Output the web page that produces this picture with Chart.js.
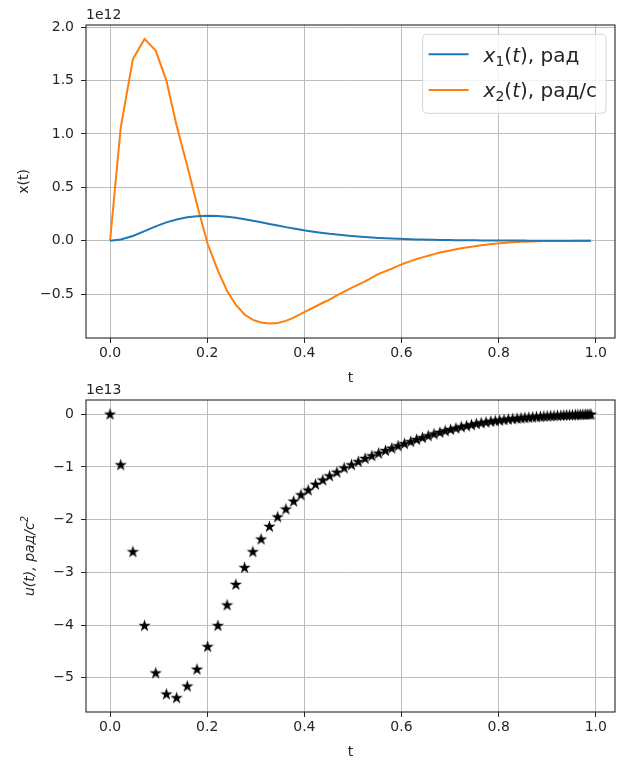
<!DOCTYPE html>
<html>
<head>
<meta charset="utf-8">
<script src="https://cdn.jsdelivr.net/npm/chart.js@4.4.0/dist/chart.umd.min.js"></script>
<style>
  html, body { margin: 0; padding: 0; background: #fff; }
  #wrap { width: 628px; height: 762px; position: relative; }
  canvas { display: block; position: absolute; left: 0; }
  #chart1 { top: 0; }
  #chart2 { top: 376px; }
</style>
</head>
<body>
<div id="wrap">
  <canvas id="chart1" width="628" height="388"></canvas>
  <canvas id="chart2" width="628" height="386"></canvas>
</div>
<script>
// time grid of the solver (s)
const tValues = [
  0, 0.022, 0.047, 0.071, 0.094, 0.116, 0.137, 0.159, 0.179, 0.201,
  0.222, 0.241, 0.259, 0.277, 0.294, 0.311, 0.328, 0.345, 0.362, 0.378,
  0.393, 0.408, 0.423, 0.438, 0.452, 0.467, 0.482, 0.497, 0.511, 0.525,
  0.539, 0.553, 0.567, 0.580, 0.593, 0.606, 0.619, 0.631, 0.643, 0.655,
  0.667, 0.679, 0.690, 0.701, 0.712, 0.723, 0.734, 0.744, 0.754, 0.764,
  0.774, 0.784, 0.793, 0.802, 0.811, 0.820, 0.829, 0.838, 0.846, 0.854,
  0.862, 0.870, 0.878, 0.886, 0.893, 0.900, 0.907, 0.914, 0.921, 0.928,
  0.934, 0.940, 0.946, 0.952, 0.958, 0.963, 0.968, 0.973, 0.978, 0.982, 0.986, 0.990
];
// x1(t), x2(t) in units of 1e12
const x1Values = [
  0, 0.012, 0.045, 0.09, 0.135, 0.172, 0.20, 0.22, 0.23, 0.234,
  0.233, 0.226, 0.215, 0.202, 0.188, 0.173, 0.158, 0.143, 0.128, 0.115,
  0.103, 0.092, 0.082, 0.073, 0.065, 0.058, 0.051, 0.045, 0.040, 0.035,
  0.031, 0.027, 0.024, 0.021, 0.019, 0.017, 0.015, 0.013, 0.012, 0.010,
  0.009, 0.008, 0.007, 0.0065, 0.006, 0.0055, 0.005, 0.0045, 0.004, 0.0037,
  0.0034, 0.0031, 0.0028, 0.0026, 0.0024, 0.0022, 0.002, 0.0018, 0.0017, 0.0016,
  0.0015, 0.0014, 0.0013, 0.0012, 0.0011, 0.001, 0.001, 0.0009, 0.0009, 0.0008,
  0.0008, 0.0007, 0.0007, 0.0006, 0.0006, 0.0005, 0.0005, 0.0005, 0.0004, 0.0004, 0.0004, 0.0003
];
const x2Values = [
  0, 1.06, 1.70, 1.89, 1.78, 1.50, 1.08, 0.70, 0.34, -0.03,
  -0.28, -0.47, -0.60, -0.69, -0.74, -0.765, -0.775, -0.77, -0.75, -0.72,
  -0.685, -0.65, -0.615, -0.58, -0.55, -0.51, -0.475, -0.44, -0.41, -0.38,
  -0.345, -0.31, -0.285, -0.26, -0.235, -0.21, -0.19, -0.17, -0.155, -0.14,
  -0.125, -0.11, -0.10, -0.09, -0.08, -0.07, -0.062, -0.055, -0.048, -0.042,
  -0.036, -0.031, -0.027, -0.023, -0.020, -0.017, -0.014, -0.012, -0.010, -0.008,
  -0.007, -0.006, -0.005, -0.004, -0.003, -0.003, -0.002, -0.002, -0.002, -0.001,
  -0.001, -0.001, -0.001, -0.001, 0, 0, 0, 0, 0, 0, 0, 0
];
// control u(t) in units of 1e13
const uValues = [
  0, -0.96, -2.61, -4.01, -4.91, -5.31, -5.38, -5.16, -4.84, -4.41,
  -4.01, -3.62, -3.23, -2.91, -2.61, -2.37, -2.13, -1.95, -1.80, -1.65,
  -1.53, -1.44, -1.33, -1.25, -1.17, -1.10, -1.02, -0.96, -0.90, -0.84,
  -0.79, -0.74, -0.69, -0.645, -0.60, -0.56, -0.52, -0.48, -0.445, -0.41,
  -0.375, -0.345, -0.315, -0.29, -0.265, -0.24, -0.22, -0.20, -0.18, -0.165,
  -0.15, -0.135, -0.125, -0.115, -0.105, -0.095, -0.087, -0.08, -0.073, -0.067,
  -0.061, -0.055, -0.05, -0.045, -0.04, -0.036, -0.032, -0.029, -0.026, -0.023,
  -0.02, -0.018, -0.016, -0.014, -0.012, -0.01, -0.008, -0.006, -0.005, -0.004, -0.003, -0.002
];

const xTicks = [0, 0.2, 0.4, 0.6, 0.8, 1.0];
const yTicksTop = [-0.5, 0, 0.5, 1.0, 1.5, 2.0];
const yTicksBottom = [-5, -4, -3, -2, -1, 0];
const seriesSub = ['1', '2'];
const seriesUnit = ['рад', 'рад/с'];

const FONT = '"DejaVu Sans", sans-serif';
const INK = '#262626';
const colors = ['#1f77b4', '#ff7f0e'];

function minus(s) { return s.replace('-', '\u2212'); }

// rich text: list of {text, font, dy}
function partsWidth(ctx, parts) {
  let w = 0;
  for (const p of parts) { ctx.font = p.font; w += ctx.measureText(p.text).width; }
  return w;
}
function drawParts(ctx, parts, x, y) {
  for (const p of parts) {
    ctx.font = p.font;
    ctx.fillText(p.text, x, y + (p.dy || 0));
    x += ctx.measureText(p.text).width;
  }
}

function legendParts(i) {
  const it = 'italic 20px ' + FONT, up = '20px ' + FONT;
  return [
    { text: 'x', font: it },
    { text: seriesSub[i], font: '14px ' + FONT, dy: 4 },
    { text: '(', font: up },
    { text: 't', font: it },
    { text: '), ' + seriesUnit[i], font: up }
  ];
}

// star marker like matplotlib '*'
function makeStar() {
  const c = document.createElement('canvas');
  c.width = 15; c.height = 15;
  const g = c.getContext('2d');
  const R = 4.7, r = 1.8, cx = 7.5, cy = 7.8;
  g.beginPath();
  for (let k = 0; k < 10; k++) {
    const rad = k % 2 ? r : R;
    const a = -Math.PI / 2 + k * Math.PI / 5;
    g.lineTo(cx + rad * Math.cos(a), cy + rad * Math.sin(a));
  }
  g.closePath();
  g.fillStyle = '#000'; g.fill();
  g.strokeStyle = '#000'; g.lineWidth = 1.1; g.lineJoin = 'miter'; g.stroke();
  return c;
}

// frame, offset text, axis titles
function decor(offsetText, yTitle, withLegend) {
  return {
    id: 'decor',
    afterDraw(chart) {
      const ctx = chart.ctx, a = chart.chartArea;
      ctx.save();
      ctx.strokeStyle = INK; ctx.lineWidth = 1.1;
      ctx.strokeRect(a.left, a.top, a.right - a.left, a.bottom - a.top);

      ctx.fillStyle = INK;
      ctx.textBaseline = 'alphabetic';
      ctx.textAlign = 'left';
      ctx.font = '14px ' + FONT;
      ctx.fillText(offsetText, a.left, a.top - 6.5);

      ctx.textAlign = 'center';
      ctx.fillText('t', (a.left + a.right) / 2, a.bottom + 44);

      ctx.textAlign = 'left';
      const w = partsWidth(ctx, yTitle.parts);
      ctx.translate(yTitle.x, (a.top + a.bottom) / 2);
      ctx.rotate(-Math.PI / 2);
      drawParts(ctx, yTitle.parts, -w / 2, 0);
      ctx.restore();

      if (withLegend) {
        ctx.save();
        const rows = [0, 1].map(legendParts);
        const tw = Math.max(...rows.map(p => partsWidth(ctx, p)));
        const bw = 61 + tw + 9, bh = 79;
        const bx = a.right - 9 - bw, by = a.top + 9.3;
        ctx.beginPath();
        ctx.roundRect(bx, by, bw, bh, 4);
        ctx.fillStyle = 'rgba(255,255,255,0.8)';
        ctx.fill();
        ctx.strokeStyle = '#d6d6d6'; ctx.lineWidth = 1;
        ctx.stroke();
        rows.forEach((p, i) => {
          const ry = by + 20 + i * 35.7;
          ctx.strokeStyle = colors[i]; ctx.lineWidth = 2;
          ctx.beginPath(); ctx.moveTo(bx + 6, ry); ctx.lineTo(bx + 46, ry); ctx.stroke();
          ctx.fillStyle = INK;
          ctx.textBaseline = 'alphabetic';
          drawParts(ctx, p, bx + 61, ry + 7.3);
        });
        ctx.restore();
      }
    }
  };
}

function xScale(h) {
  return {
    type: 'linear', min: -0.0495, max: 1.0395,
    afterBuildTicks: s => { s.ticks = xTicks.map(v => ({ value: v })); },
    afterFit: s => { s.height = h; },
    ticks: { callback: v => v.toFixed(1), font: { family: FONT, size: 14 }, color: INK, padding: 2, maxRotation: 0, autoSkip: false },
    grid: { color: '#bdbdbd', lineWidth: 1, tickLength: 5, tickColor: INK, tickWidth: 1 },
    border: { display: false }
  };
}
function yScale(min, max, ticks, digits) {
  return {
    type: 'linear', min: min, max: max,
    afterBuildTicks: s => { s.ticks = ticks.map(v => ({ value: v })); },
    afterFit: s => { s.width = 86; },
    ticks: { callback: v => minus(v.toFixed(digits)), font: { family: FONT, size: 14 }, color: INK, padding: 7, autoSkip: false },
    grid: { color: '#bdbdbd', lineWidth: 1, tickLength: 5, tickColor: INK, tickWidth: 1 },
    border: { display: false }
  };
}

// top: x1 and x2
new Chart(document.getElementById('chart1'), {
  type: 'scatter',
  data: {
    datasets: [0, 1].map(i => ({
      label: 'x' + seriesSub[i] + '(t), ' + seriesUnit[i],
      data: tValues.map((t, k) => ({ x: t, y: (i ? x2Values : x1Values)[k] })),
      showLine: true, borderColor: colors[i], borderWidth: 2, pointRadius: 0, tension: 0
    }))
  },
  options: {
    responsive: false, animation: false,
    layout: { padding: { left: 0, top: 25, right: 13, bottom: 0 } },
    plugins: { legend: { display: false }, tooltip: { enabled: false } },
    scales: { x: xScale(50), y: yScale(-0.91, 2.02, yTicksTop, 1) }
  },
  plugins: [decor('1e12', { x: 27.5, parts: [{ text: 'x(t)', font: '14px ' + FONT }] }, true)]
});

// bottom: control u(t) as star markers
const star = makeStar();
new Chart(document.getElementById('chart2'), {
  type: 'scatter',
  data: {
    datasets: [{
      label: 'u(t)',
      data: tValues.map((t, k) => ({ x: t, y: uValues[k] })),
      pointStyle: star, pointRadius: 4, showLine: false
    }]
  },
  options: {
    responsive: false, animation: false,
    layout: { padding: { left: 0, top: 24, right: 13, bottom: 0 } },
    plugins: { legend: { display: false }, tooltip: { enabled: false } },
    scales: { x: xScale(50), y: yScale(-5.65, 0.27, yTicksBottom, 0) }
  },
  plugins: [decor('1e13', { x: 34, parts: [
    { text: 'u(t), рад/с', font: 'italic 14px ' + FONT },
    { text: '2', font: 'italic 10px ' + FONT, dy: -6 }
  ] }, false)]
});
</script>
</body>
</html>
